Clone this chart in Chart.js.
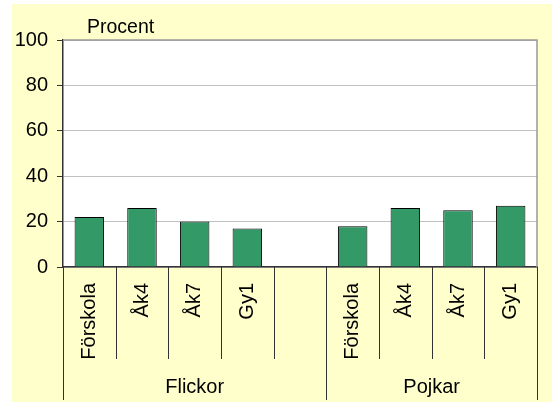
<!DOCTYPE html>
<html>
<head>
<meta charset="utf-8">
<script src="https://cdn.jsdelivr.net/npm/chart.js@4"></script>
<style>
  html, body { margin: 0; padding: 0; background: #ffffff; overflow: hidden; width: 100%; height: 100%; }
  #bg { position: absolute; left: 12px; top: 4px; right: 0; bottom: 1px; background: #ffffcc; }
  #wrap { position: absolute; left: 0; top: 0; width: 552px; height: 403px; }
  canvas { display: block; }
</style>
</head>
<body>
<div id="bg"></div>
<div id="wrap"><canvas id="chart"></canvas></div>
<script>
// Data
const categories = ['Förskola', 'Åk4', 'Åk7', 'Gy1', '', 'Förskola', 'Åk4', 'Åk7', 'Gy1'];
const values = [22, 26, 20, 17, null, 18, 26, 25, 27];
const groupLabels = ['Flickor', 'Pojkar'];
const groupStarts = [0, 5];   // first category of each group
const groupEnds = [5, 9];     // boundary after last category
const yTicks = [0, 20, 40, 60, 80, 100];
const yUnit = 'Procent';

const FONT = 'Arial, "Liberation Sans", sans-serif';

// Vit plotyta, ram, avgränsare och grupptexter
const decorPlugin = {
  id: 'decor',
  beforeDraw(chart) {
    const { ctx, chartArea: a } = chart;
    ctx.save();
    ctx.fillStyle = '#ffffff';
    ctx.fillRect(a.left, a.top, a.right - a.left, a.bottom - a.top);
    ctx.restore();
  },
  afterDraw(chart) {
    const { ctx, chartArea: a } = chart;
    const x = chart.scales.x;
    const step = x.getPixelForValue(1) - x.getPixelForValue(0);

    ctx.save();
    // top and right border
    ctx.strokeStyle = '#999999';
    ctx.lineWidth = 1.5;
    ctx.beginPath();
    ctx.moveTo(a.left, a.top);
    ctx.lineTo(a.right, a.top);
    ctx.lineTo(a.right, a.bottom);
    ctx.stroke();

    // category separators under the axis
    ctx.strokeStyle = '#333333';
    ctx.lineWidth = 1;
    const groupBounds = groupStarts.concat(groupEnds);
    for (let i = 0; i <= categories.length; i++) {
      const bx = Math.round(x.getPixelForValue(i) - step / 2) + 0.5;
      const long = groupBounds.includes(i);
      ctx.beginPath();
      ctx.moveTo(bx, a.bottom);
      ctx.lineTo(bx, long ? 400 : 359);
      ctx.stroke();
    }

    // group labels
    ctx.fillStyle = '#000000';
    ctx.font = '20px ' + FONT;
    ctx.textAlign = 'center';
    ctx.textBaseline = 'middle';
    groupLabels.forEach((g, k) => {
      const x0 = x.getPixelForValue(groupStarts[k]) - step / 2;
      const x1 = x.getPixelForValue(groupEnds[k]) - step / 2;
      ctx.fillText(g, (x0 + x1) / 2, 387);
    });

    // unit label
    ctx.textAlign = 'left';
    ctx.textBaseline = 'alphabetic';
    ctx.font = '19.5px ' + FONT;
    ctx.fillText(yUnit, 87, 33);
    ctx.restore();
  },
};

new Chart(document.getElementById('chart'), {
  type: 'bar',
  data: {
    labels: categories,
    datasets: [{
      data: values,
      backgroundColor: '#339966',
      borderColor: '#000000',
      borderWidth: 1,
      categoryPercentage: 1,
      barPercentage: 0.56,
    }],
  },
  options: {
    responsive: true,
    maintainAspectRatio: false,
    animation: false,
    layout: { padding: { top: 40, right: 15, left: 0, bottom: 0 } },
    plugins: {
      legend: { display: false },
      tooltip: { enabled: false },
    },
    scales: {
      x: {
        afterFit: (s) => { s.height = 136; },
        grid: { display: false },
        border: { display: true, color: '#333333', width: 1.5 },
        ticks: {
          autoSkip: false,
          maxRotation: 90,
          minRotation: 90,
          padding: 8,
          color: '#000000',
          font: { family: FONT, size: 20 },
        },
      },
      y: {
        min: 0,
        max: 100,
        afterFit: (s) => { s.width = 63; },
        afterBuildTicks: (s) => { s.ticks = yTicks.map((v) => ({ value: v })); },
        grid: { color: '#c0c0c0', tickColor: '#333333', tickLength: 6 },
        border: { display: true, color: '#333333', width: 1.5 },
        ticks: {
          padding: 9,
          color: '#000000',
          font: { family: FONT, size: 20 },
        },
      },
    },
  },
  plugins: [decorPlugin],
});
</script>
</body>
</html>
